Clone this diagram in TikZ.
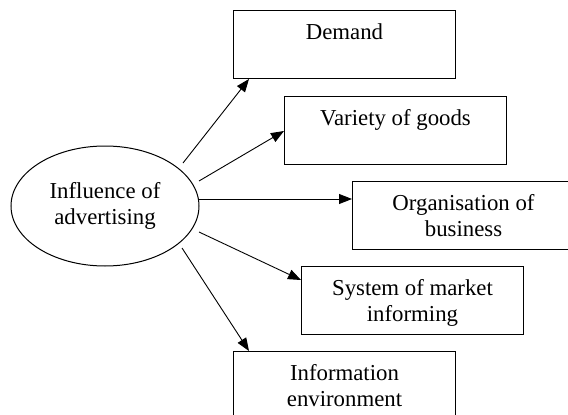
\documentclass[tikz,border=0pt]{standalone}
\usepackage{fontspec}
\setmainfont{Liberation Serif}
\usetikzlibrary{arrows.meta,calc,shapes.geometric}

\begin{document}
\begin{tikzpicture}[x=1pt,y=-1pt,
  every node/.style={font=\fontsize{22.8}{26.7}\selectfont},
  factor/.style={draw,line width=1pt,inner sep=0pt,anchor=north west,
    execute at begin node={\begin{minipage}[c][68pt][t]{222pt}\centering\vspace*{10pt}\strut},
    execute at end node={\end{minipage}}},
  hub/.style={draw,ellipse,line width=1pt,inner sep=0pt,
    minimum width=188pt,minimum height=120pt,align=center},
  link/.style={line width=0.9pt,-{Triangle[length=13pt,width=10pt]}}]

\path[use as bounding box,clip] (0,0) rectangle (568,415);

% central cause
\node[hub] (ell) at (105,206) {Influence of\\advertising};

% affected areas
\node[factor] (dem)  at (233,10)  {Demand};
\node[factor] (var)  at (284,96)  {Variety of goods};
\node[factor] (org)  at (352,181) {Organisation of\\business};
\node[factor] (sys)  at (301,266) {System of market\\informing};
\node[factor] (info) at (233,351) {Information\\environment};

% influence arrows
\draw[link] ($(ell.center)+(78,-43)$) -- ($(dem.south west)+(16,0)$);
\draw[link] ($(ell.center)+(94,-25)$) -- ($(var.north west)+(0,35)$);
\draw[link] ($(ell.center)+(94,-7)$)  -- ($(org.north west)+(0,18)$);
\draw[link] ($(ell.center)+(94,26)$)  -- ($(sys.north west)+(0,14)$);
\draw[link] ($(ell.center)+(77,42)$)  -- ($(info.north west)+(16,0)$);
\end{tikzpicture}
\end{document}
